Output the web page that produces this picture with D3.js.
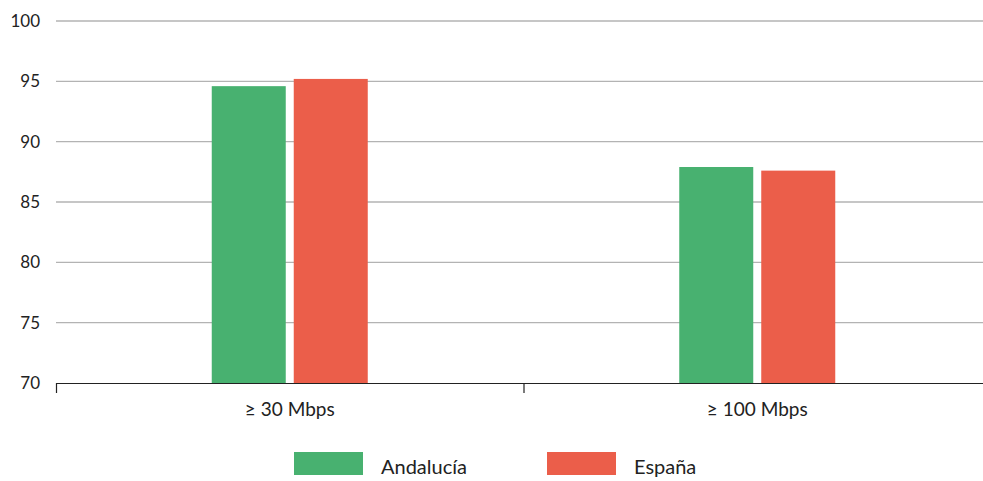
<!DOCTYPE html>
<html><head><meta charset="utf-8">
<script src="https://cdn.jsdelivr.net/npm/d3@7"></script>
<style>body{margin:0;background:#fff}svg{display:block}text{font-family:Lato,"Noto Sans",sans-serif;fill:#222}</style>
</head><body><svg id="c" width="983" height="481"></svg>
<script>
const categories = ["≥ 30 Mbps", "≥ 100 Mbps"];
const seriesNames = ["Andalucía", "España"];
const andalucia = [94.6, 87.9];
const espana = [95.2, 87.6];
const yTicks = [70, 75, 80, 85, 90, 95, 100];
const colors = ["#48B170", "#EB5E4A"];

(function () {
const svg = d3.select("#c");
const mLeft = 56, mRight = 991, mTop = 21, mBottom = 383;
const x = d3.scaleBand().domain(categories).range([mLeft, mRight]);
const y = d3.scaleLinear().domain([70, 100]).range([mBottom, mTop]);
const xs = d3.scaleBand().domain(seriesNames).range([0, 156]).paddingInner(8/82);

svg.append("g").selectAll("line").data(yTicks.filter(d => d > 70)).join("line")
  .attr("x1", mLeft).attr("x2", 983).attr("y1", d => y(d)).attr("y2", d => y(d))
  .attr("stroke", "#b3b3b3").attr("stroke-width", 1.3);

const ya = svg.append("g").attr("transform", `translate(${mLeft},0)`)
  .call(d3.axisLeft(y).tickValues(yTicks).tickSize(0).tickPadding(16));
ya.select(".domain").remove();
ya.selectAll("text").attr("font-size", 17).attr("font-family", "Lato,'Noto Sans',sans-serif").attr("fill", "#222");

const data = categories.map((c, i) => ({c, vals: [andalucia[i], espana[i]]}));
const g = svg.append("g");
data.forEach(d => {
  const gx = x(d.c) + (x.bandwidth() - 156) / 2;
  d.vals.forEach((v, j) => {
    g.append("rect").attr("x", gx + xs(seriesNames[j])).attr("width", xs.bandwidth())
      .attr("y", y(v)).attr("height", y(70) - y(v)).attr("fill", colors[j]);
  });
});

const xa = svg.append("g").attr("transform", `translate(0,${mBottom})`)
  .call(d3.axisBottom(x).tickSize(0).tickPadding(20));
xa.select(".domain").remove();
xa.selectAll("text").attr("font-size", 19).attr("font-family", "Lato,'Noto Sans',sans-serif").attr("fill", "#222");
svg.append("line").attr("x1", mLeft).attr("x2", 983).attr("y1", mBottom + 0.5).attr("y2", mBottom + 0.5).attr("stroke", "#222").attr("stroke-width", 1.2);
[mLeft, x(categories[1])].forEach(t => {
  svg.append("line").attr("x1", t + 0.5).attr("x2", t + 0.5).attr("y1", mBottom).attr("y2", mBottom + 10).attr("stroke", "#222").attr("stroke-width", 1.2);
});

const legX = [294, 547];
seriesNames.forEach((s, i) => {
  svg.append("rect").attr("x", legX[i]).attr("y", 452).attr("width", 69).attr("height", 23).attr("fill", colors[i]);
  svg.append("text").attr("x", legX[i] + 87).attr("y", 474).attr("font-size", 20).text(s);
});
})();
</script></body></html>
